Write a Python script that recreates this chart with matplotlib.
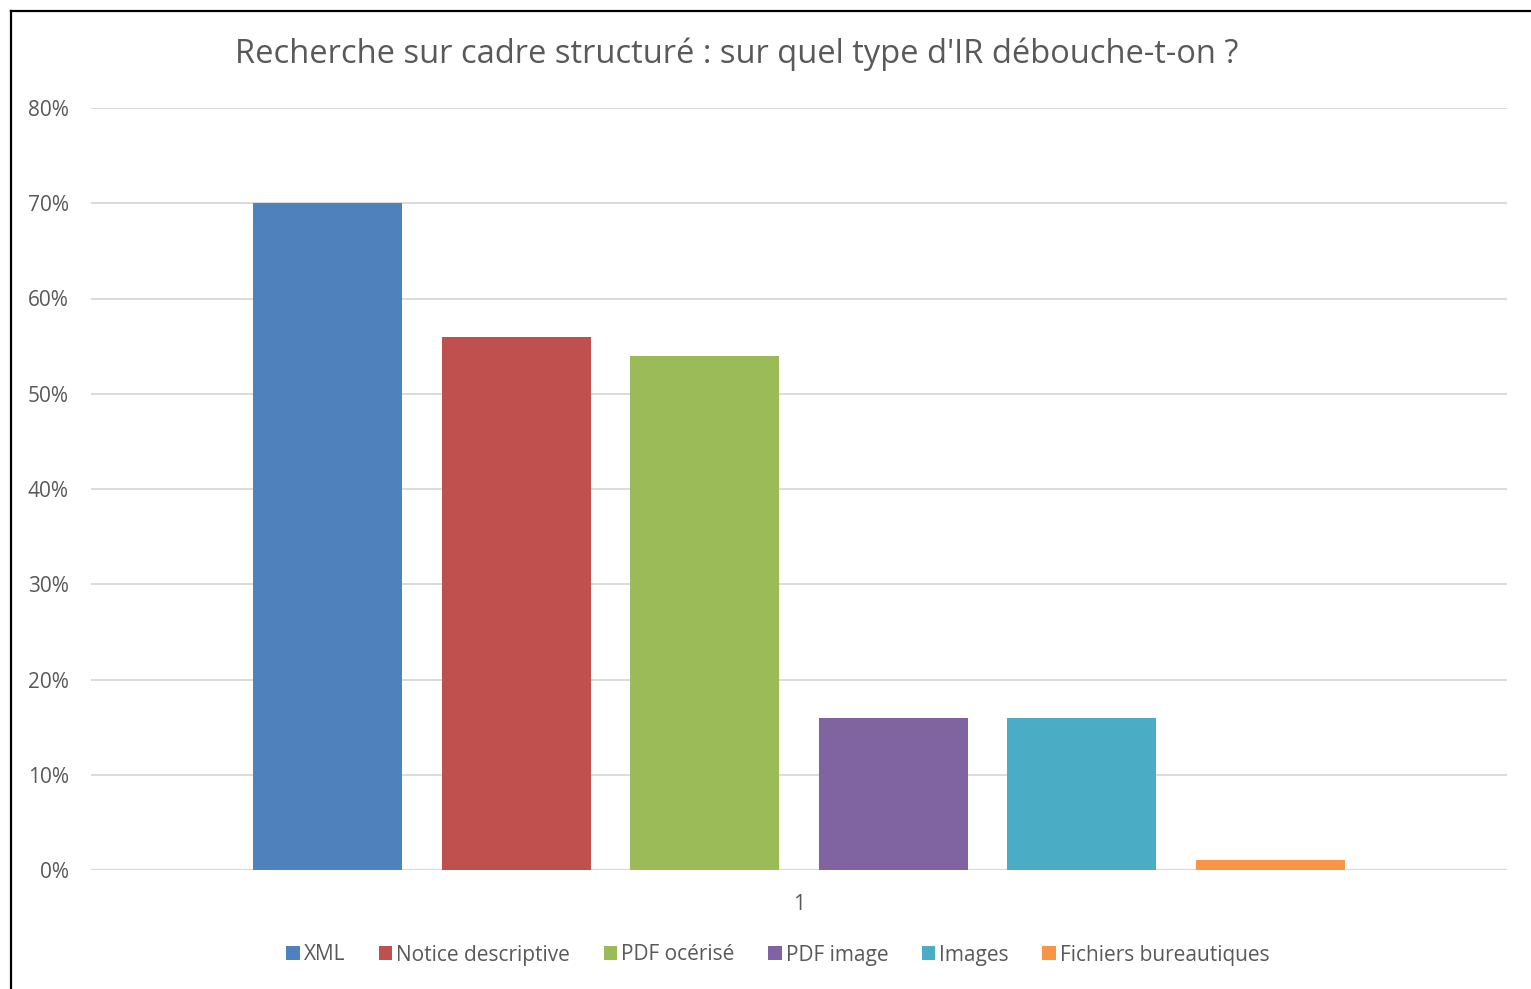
import matplotlib
matplotlib.use("Agg")
import matplotlib.pyplot as plt
from matplotlib.lines import Line2D
from matplotlib.patches import Patch

plt.rcParams['font.family'] = ['Open Sans', 'DejaVu Sans']

title = "Recherche sur cadre structuré : sur quel type d'IR débouche-t-on ?"
series = ["XML", "Notice descriptive", "PDF océrisé", "PDF image", "Images", "Fichiers bureautiques"]
values = [0.70, 0.56, 0.54, 0.16, 0.16, 0.01]
colors = ["#4F81BD", "#C0504D", "#9BBB59", "#8064A2", "#4BACC6", "#F79646"]
category = "1"
yticks = [0, 0.1, 0.2, 0.3, 0.4, 0.5, 0.6, 0.7, 0.8]
ytick_labels = ["0%", "10%", "20%", "30%", "40%", "50%", "60%", "70%", "80%"]

W, H = 1531, 989
fig = plt.figure(figsize=(W / 100, H / 100), dpi=100)
ax = fig.add_axes([91 / W, (H - 870) / H, 1416 / W, 762 / H])

text_color = "#595959"
grid_color = "#D9D9D9"

n = len(series)
width = 0.79
for i, (lab, v, c) in enumerate(zip(series, values, colors)):
    ax.bar(i - (n - 1) / 2, v, width=width, color=c, label=lab, zorder=3)

ax.set_xlim(-3.754, 3.754)
ax.set_ylim(0, 0.8)
ax.set_yticks(yticks)
ax.set_yticklabels(ytick_labels)
ax.set_xticks([0])
ax.set_xticklabels([category])
ax.tick_params(axis='both', length=0, labelsize=15, colors=text_color)
ax.tick_params(axis='y', pad=16)
ax.tick_params(axis='x', pad=17)
ax.yaxis.grid(True, color=grid_color, linewidth=1.3, zorder=0)
for s in ax.spines.values():
    s.set_visible(False)
ax.axhline(0, color=grid_color, linewidth=1.6, zorder=2)

fig.text(737 / W, 1 - 54 / H, title, ha='center', va='center', fontsize=23.5, color=text_color)

handles = [Patch(facecolor=c, edgecolor='none') for c in colors]
fig.legend(handles, series, loc='center', bbox_to_anchor=(778 / W, 1 - 955 / H), ncol=n,
           frameon=False, fontsize=15, labelcolor=text_color, handlelength=0.65,
           handleheight=0.65, handletextpad=0.2, columnspacing=1.6)

# outer border (left and top only)
fig.add_artist(Line2D([10.5 / W, 10.5 / W], [0, 1 - 10.5 / H], color='black', linewidth=1.6))
fig.add_artist(Line2D([10.5 / W, 1], [1 - 10.5 / H, 1 - 10.5 / H], color='black', linewidth=1.6))

fig.savefig("out.png", dpi=100, facecolor='white')
